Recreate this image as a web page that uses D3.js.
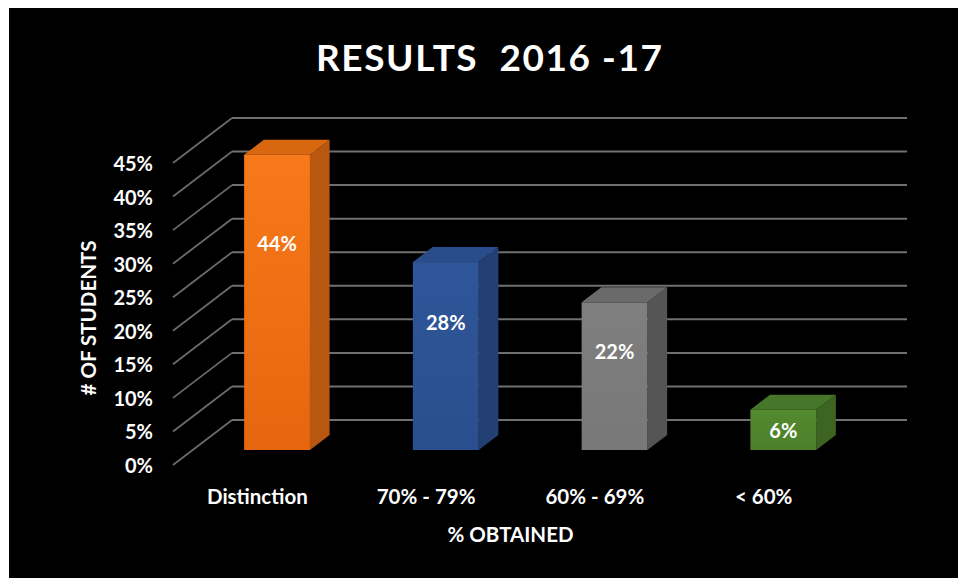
<!DOCTYPE html>
<html>
<head>
<meta charset="utf-8">
<script src="https://cdn.jsdelivr.net/npm/d3@7"></script>
<style>
  html, body { margin: 0; padding: 0; background: #ffffff; }
  svg { display: block; }
  text { font-family: Lato, "Open Sans", sans-serif; font-weight: 700; fill: #ffffff; }
</style>
</head>
<body>
<svg id="chart" width="958" height="578"></svg>
<script>
// Share of students in each result band, 2016-17
const categories = ["Distinction", "70% - 79%", "60% - 69%", "< 60%"];
const values = [44, 28, 22, 6];
const yTicks = [0, 5, 10, 15, 20, 25, 30, 35, 40, 45];
const tickLabels = yTicks.map(t => t + "%");
const faceColors = ["#F8791A", "#2F5699", "#7F7F7F", "#548A30"];
const faceColorsDark = ["#E5660E", "#2A4F8E", "#787878", "#4C7F2A"];
const sideColors = ["#B9560F", "#233F73", "#555555", "#3D6423"];
const topColors = ["#D8670F", "#2A4C8A", "#6A6A6A", "#46762A"];

const W = 958, H = 578;
const svg = d3.select("#chart");

// white frame, black chart area
svg.append("rect").attr("x", 0).attr("y", 0).attr("width", W).attr("height", H).attr("fill", "#ffffff");
svg.append("rect").attr("x", 9).attr("y", 8).attr("width", W - 9).attr("height", H - 8).attr("fill", "#000000");

// front plane scales; depth runs toward the back wall as an oblique offset
const x = d3.scaleBand().domain(categories).range([173, 848]).padding(0);
const y = d3.scaleLinear().domain([0, 45]).range([465, 163]);
const depth = { dx: 59, dy: -45 };
const P = (px, v, z) => [px + z * depth.dx, y(v) + z * depth.dy];

// back wall gridlines
const grid = svg.append("g");
yTicks.forEach(t => {
  const a = P(x.range()[0], t, 1), b = P(x.range()[1], t, 1);
  grid.append("line")
    .attr("x1", a[0]).attr("y1", a[1]).attr("x2", b[0]).attr("y2", b[1])
    .attr("stroke", "#707070").attr("stroke-width", 2);
  // side wall gridlines
  const c = P(x.range()[0], t, 0);
  grid.append("line")
    .attr("x1", c[0]).attr("y1", c[1]).attr("x2", a[0]).attr("y2", a[1])
    .attr("stroke", "#6a6a6a").attr("stroke-width", 1.8);
});

// y tick labels
svg.append("g").selectAll("text").data(yTicks).join("text")
  .attr("x", 153).attr("y", d => y(d))
  .attr("text-anchor", "end").attr("dominant-baseline", "central")
  .attr("font-size", 20)
  .text((d, i) => tickLabels[i]);

// gradients for bar fronts
const defs = svg.append("defs");
categories.forEach((c, i) => {
  const g = defs.append("linearGradient").attr("id", "face" + i)
    .attr("x1", 0).attr("y1", 0).attr("x2", 0).attr("y2", 1);
  g.append("stop").attr("offset", "0%").attr("stop-color", faceColors[i]);
  g.append("stop").attr("offset", "100%").attr("stop-color", faceColorsDark[i]);
});

// 3D bars occupy the middle third of the depth
const z0 = 1 / 3, z1 = 2 / 3;
const barW = x.bandwidth() * 0.39;
const poly = pts => pts.map(p => p.join(",")).join(" ");
const bars = svg.append("g");
categories.forEach((c, i) => {
  const v = values[i];
  const xl = x(c) + (x.bandwidth() - barW) / 2, xr = xl + barW;
  // side face
  bars.append("polygon")
    .attr("points", poly([P(xr, v, z0), P(xr, v, z1), P(xr, 0, z1), P(xr, 0, z0)]))
    .attr("fill", sideColors[i]);
  // top face
  bars.append("polygon")
    .attr("points", poly([P(xl, v, z0), P(xr, v, z0), P(xr, v, z1), P(xl, v, z1)]))
    .attr("fill", topColors[i]);
  // front face
  const ft = P(xl, v, z0), fb = P(xr, 0, z0);
  bars.append("rect")
    .attr("x", ft[0]).attr("y", ft[1])
    .attr("width", fb[0] - ft[0]).attr("height", fb[1] - ft[1])
    .attr("fill", "url(#face" + i + ")");
  // value label
  const lp = P((xl + xr) / 2, v * 0.73, z0);
  bars.append("text")
    .attr("x", lp[0]).attr("y", lp[1] + 9)
    .attr("text-anchor", "middle").attr("dominant-baseline", "central")
    .attr("font-size", 20)
    .text(v + "%");
});

// category labels
svg.append("g").selectAll("text").data(categories).join("text")
  .attr("x", d => x(d) + x.bandwidth() / 2).attr("y", 496)
  .attr("text-anchor", "middle").attr("dominant-baseline", "central")
  .attr("font-size", 20.5)
  .text(d => d);

// axis titles
svg.append("text")
  .attr("x", (x.range()[0] + x.range()[1]) / 2).attr("y", 534)
  .attr("text-anchor", "middle").attr("dominant-baseline", "central")
  .attr("font-size", 20.5)
  .text("% OBTAINED");

svg.append("text")
  .attr("transform", "translate(88,318) rotate(-90)")
  .attr("text-anchor", "middle").attr("dominant-baseline", "central")
  .attr("font-size", 20.5)
  .text("# OF STUDENTS");

// chart title
svg.append("text")
  .attr("x", 489).attr("y", 56)
  .attr("text-anchor", "middle").attr("dominant-baseline", "central")
  .attr("font-size", 37)
  .attr("textLength", 346).attr("lengthAdjust", "spacing")
  .attr("xml:space", "preserve")
  .text("RESULTS  2016 -17");
</script>
</body>
</html>
